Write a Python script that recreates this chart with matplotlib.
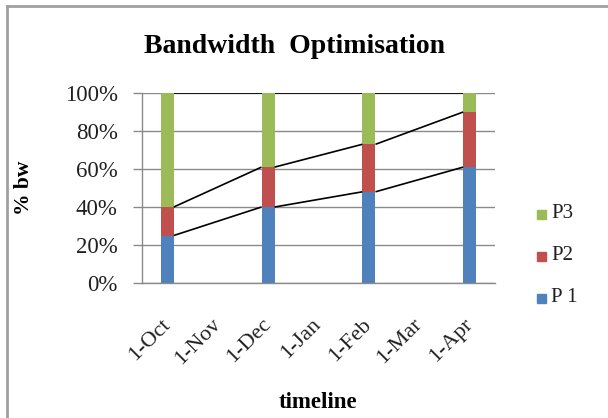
import matplotlib
matplotlib.use("Agg")
import matplotlib.pyplot as plt
from matplotlib.lines import Line2D
from matplotlib.patches import Rectangle
from matplotlib.ticker import FuncFormatter

# Month categories on the date axis and the months that carry a bar
months = ["1-Oct", "1-Nov", "1-Dec", "1-Jan", "1-Feb", "1-Mar", "1-Apr"]
bar_months = ["1-Oct", "1-Dec", "1-Feb", "1-Apr"]

# Share of bandwidth (%) per priority class
p1 = [25, 40, 48, 61]
p2 = [15, 21, 25, 29]
p3 = [60, 39, 27, 10]

series_names = ["P 1", "P2", "P3"]
colors = ["#4F81BD", "#C0504D", "#9BBB59"]
yticks = [0, 20, 40, 60, 80, 100]

SERIF = "Liberation Serif"
W, H = 608, 418

fig = plt.figure(figsize=(W / 100, H / 100), dpi=100)
ax = fig.add_axes([142 / W, 135 / H, 353 / W, 190 / H])

x = [months.index(m) for m in bar_months]
width = 0.26
bottom = [0] * len(x)
tops = []
for vals, c in zip([p1, p2, p3], colors):
    ax.bar(x, vals, width, bottom=bottom, color=c, zorder=2)
    bottom = [b + v for b, v in zip(bottom, vals)]
    tops.append(list(bottom))

# Series lines joining the stack boundaries of neighbouring bars
for t in tops:
    for i in range(len(x) - 1):
        ax.plot([x[i] + width / 2, x[i + 1] - width / 2], [t[i], t[i + 1]],
                color="black", lw=1.2, zorder=3, solid_capstyle="butt")

ax.set_xlim(-0.5, len(months) - 0.5)
ax.set_ylim(0, 100)
ax.set_yticks(yticks)
ax.yaxis.set_major_formatter(FuncFormatter(lambda v, _: f"{int(v)}%"))
ax.set_xticks(range(len(months)))
ax.set_xticklabels(months, rotation=45, ha="right", va="center",
                   rotation_mode="anchor",
                   fontfamily=SERIF, fontsize=16, color="#202020")
for lab in ax.get_yticklabels():
    lab.set_fontfamily(SERIF)
    lab.set_fontsize(16.5)
    lab.set_color("#202020")

ax.grid(axis="y", color="#8a8a8a", lw=1, zorder=1)
ax.set_axisbelow(True)
for s in ["top", "right"]:
    ax.spines[s].set_visible(False)
for s in ["left", "bottom"]:
    ax.spines[s].set_color("#8a8a8a")
    ax.spines[s].set_linewidth(1)
ax.tick_params(axis="y", direction="out", length=6.5, width=1, color="#8a8a8a", pad=11)
ax.tick_params(axis="x", length=0, pad=28)

fig.text(295 / W, 1 - 53 / H, "Bandwidth  Optimisation", ha="center", va="baseline",
         fontfamily=SERIF, fontweight="bold", fontsize=20)
fig.text(24 / W, 1 - 188 / H, "% bw", ha="center", va="center", rotation=90,
         fontfamily=SERIF, fontweight="bold", fontsize=15.5)
fig.text(318 / W, 1 - 403 / H, "timeline", ha="center", va="center",
         fontfamily=SERIF, fontweight="bold", fontsize=16.5)

# Legend, top entry is the last series
leg_y = [298, 256, 214]
for name, c, ly in zip(series_names, colors, leg_y):
    fig.add_artist(Rectangle((537 / W, 1 - (ly + 4.5) / H), 9 / W, 9 / H,
                             transform=fig.transFigure, color=c))
    fig.text(551 / W, 1 - ly / H, name, ha="left", va="center",
             fontfamily=SERIF, fontsize=15, color="#202020")

# Chart frame
fig.add_artist(Line2D([7 / W, 1.01], [1 - 6 / H] * 2, transform=fig.transFigure,
                      color="#a0a0a0", lw=2))
fig.add_artist(Line2D([7 / W] * 2, [-0.01, 1 - 6 / H], transform=fig.transFigure,
                      color="#a0a0a0", lw=2))

fig.savefig("out.png", dpi=100)
